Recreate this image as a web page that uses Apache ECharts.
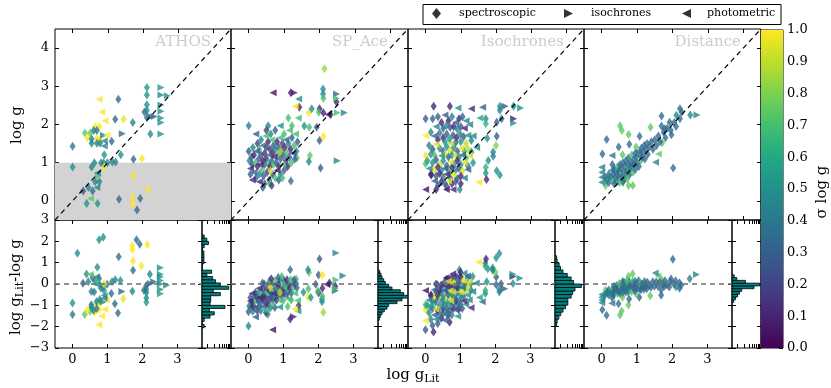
<!DOCTYPE html>
<html>
<head>
<meta charset="utf-8">
<script src="https://cdn.jsdelivr.net/npm/echarts@6/dist/echarts.min.js"></script>
<style>
  html, body { margin: 0; padding: 0; background: #fff; }
  #chart { width: 831px; height: 388px; }
</style>
</head>
<body>
<div id="chart"></div>
<script>
// panels and marker kinds
const panelNames = ['ATHOS', 'SP_Ace', 'Isochrones', 'Distance'];
const markerNames = ['spectroscopic', 'isochrones', 'photometric'];

// points: [log g Lit, log g, sigma log g, marker (0 spec, 1 iso, 2 phot)]
const athosPts = [
  [0.00,1.43,0.4,0],[0.00,0.89,0.5,0],[0.75,2.66,1.0,2],[0.83,2.33,1.0,2],[0.92,2.10,1.0,2],
  [1.30,2.66,0.35,0],[1.21,2.14,0.35,0],[1.45,2.14,0.97,0],[1.71,2.05,0.45,0],[1.41,1.76,0.35,1],
  [0.64,1.94,1.0,0],[0.76,1.94,1.0,0],[0.35,1.78,0.75,0],[0.50,1.78,0.75,0],[0.42,1.65,1.0,0],
  [0.69,1.63,1.0,0],[0.78,1.63,1.0,0],[0.97,1.72,1.0,2],[0.88,1.72,0.45,1],[0.54,1.62,0.45,0],
  [0.54,1.51,0.45,0],[0.69,1.51,0.45,0],[0.78,1.51,0.45,0],[0.90,1.57,0.45,2],[0.90,1.44,0.45,2],
  [1.11,1.56,0.35,0],[0.60,1.84,0.45,0],[0.69,1.84,0.4,0],[0.90,1.21,0.5,0],[1.37,1.21,0.5,0],
  [0.81,1.00,0.45,0],[0.88,1.00,0.45,0],[0.99,1.00,0.45,0],[1.13,1.02,0.45,0],[1.22,1.02,0.45,0],
  [0.62,1.00,0.45,0],[0.54,0.89,0.45,0],[1.73,1.09,0.35,0],[1.97,1.11,1.0,0],[0.90,0.89,1.0,0],
  [0.73,0.65,0.7,1],[0.71,0.74,0.45,2],[0.64,0.50,0.45,0],[0.76,0.50,0.45,0],[0.45,0.35,0.45,0],
  [0.57,0.26,0.35,0],[0.69,0.35,0.45,2],[0.30,0.26,0.3,0],[0.51,0.06,0.75,2],[0.40,-0.07,0.5,0],
  [0.71,-0.07,0.5,0],[1.32,0.04,0.35,0],[1.73,0.65,1.0,0],[2.14,0.29,1.0,0],[1.71,0.09,1.0,0],
  [1.71,-0.09,1.0,0],[1.92,0.06,0.35,0],[1.83,-0.24,0.35,0],[2.11,2.97,0.55,0],[2.11,2.77,0.5,0],
  [2.11,2.52,0.5,0],[2.11,2.37,0.5,0],[2.04,2.33,0.35,0],[2.11,2.18,0.35,0],[2.23,2.21,0.35,1],
  [2.32,2.21,0.35,1],[2.21,1.75,0.45,0],[2.51,2.97,0.55,1],[2.51,2.77,0.5,1],[2.51,2.51,0.5,1],
  [2.51,2.35,0.5,1],[2.51,2.17,0.5,1],[2.51,2.05,0.5,1],[2.51,1.75,0.5,1],[2.69,2.75,0.5,1],
  [0.88,-1.31,0.5,0],[0.76,-1.32,0.5,0],[0.14,-1.30,0.5,0]
];

const spacePts = [
  [2.14,3.46,0.85,0],[0.69,2.83,0.05,2],[1.19,2.83,0.1,0],[1.29,2.83,0.1,1],[1.41,2.67,0.5,2],
  [2.10,2.93,0.5,0],[2.10,2.80,0.45,0],[2.11,2.69,0.7,0],[2.48,2.80,0.35,1],[2.48,2.69,0.7,1],
  [2.48,2.59,0.1,0],[1.31,2.48,1.0,2],[1.43,2.45,0.1,0],[1.70,2.31,1.0,0],[1.78,2.41,0.5,0],
  [2.00,2.41,0.1,0],[1.98,2.32,0.7,0],[2.11,2.31,0.1,0],[2.24,2.26,0.05,2],[2.31,2.26,0.1,0],
  [2.50,2.31,0.7,1],[2.70,2.31,0.45,1],[1.12,2.17,0.7,0],[1.40,2.17,0.7,2],[0.00,1.97,0.45,0],
  [0.55,1.97,0.45,0],[0.89,1.97,0.5,2],[1.22,1.97,0.7,0],[1.57,1.96,0.5,0],[1.71,1.93,0.7,0],
  [1.92,1.93,0.3,0],[2.00,1.58,0.3,0],[2.11,1.69,1.0,0],[1.36,1.12,0.7,0],[1.73,1.19,0.75,0],
  [1.70,1.03,0.45,0],[2.03,0.86,0.3,0],[2.50,1.05,0.45,1],[1.19,0.52,0.35,0],
  [0.00,1.30,0.3,0],[0.02,1.05,0.45,0],[0.05,0.85,0.1,2],[0.08,1.15,0.3,0],[0.10,0.95,0.2,0],
  [0.12,1.40,0.45,0],[0.15,0.75,0.3,2],[0.15,1.20,0.1,0],[0.18,1.00,0.7,0],[0.20,0.60,0.3,0],
  [0.22,1.30,0.3,2],[0.25,0.90,0.1,0],[0.25,1.50,0.2,0],[0.28,1.10,0.3,0],[0.30,0.70,0.45,0],
  [0.30,1.35,0.7,0],[0.32,0.95,0.1,2],[0.35,1.20,0.3,0],[0.35,1.60,0.45,0],[0.38,0.80,0.7,0],
  [0.40,1.05,0.1,0],[0.40,1.45,0.3,2],[0.42,0.65,0.3,0],[0.45,1.25,0.15,0],[0.45,0.95,0.3,0],
  [0.48,1.70,0.7,2],[0.50,1.10,0.1,0],[0.50,1.40,0.3,0],[0.52,0.75,0.2,0],[0.55,1.00,0.7,0],
  [0.55,1.55,0.1,0],[0.58,1.20,0.3,2],[0.58,0.55,0.3,0],[0.60,0.90,0.1,0],[0.60,1.35,0.15,0],
  [0.62,1.75,0.45,0],[0.65,1.05,0.3,0],[0.65,1.60,0.7,2],[0.68,0.70,0.2,0],[0.68,1.25,0.1,0],
  [0.70,1.45,0.3,0],[0.70,0.95,0.7,0],[0.72,1.15,0.1,2],[0.75,0.60,0.7,0],[0.75,1.35,0.45,0],
  [0.75,1.85,0.3,0],[0.78,1.00,0.3,0],[0.80,1.55,0.1,0],[0.80,0.80,0.15,2],[0.82,1.20,0.7,0],
  [0.85,1.40,0.3,0],[0.85,0.90,0.1,0],[0.88,1.65,0.7,2],[0.90,1.10,0.3,0],[0.90,0.70,0.45,0],
  [0.92,1.30,0.1,0],[0.95,1.50,0.2,0],[0.95,0.95,0.7,2],[0.98,1.20,0.3,0],[1.00,1.75,0.7,0],
  [1.00,0.80,0.3,0],[1.02,1.40,0.1,0],[1.05,1.05,0.15,0],[1.05,1.60,0.3,2],[1.08,1.25,0.7,0],
  [1.10,0.90,0.1,0],[1.12,1.50,0.45,0],[1.15,1.15,0.3,0],[1.15,1.85,0.7,2],[1.18,1.35,0.1,0],
  [1.20,1.00,0.7,0],[1.22,1.65,0.3,0],[1.25,1.25,0.2,2],[1.28,1.45,0.7,0],[1.30,1.10,0.3,0],
  [1.32,1.75,0.7,2],[1.35,1.30,0.45,0],[1.38,1.55,0.3,0],[0.45,0.45,0.3,0],[0.60,0.45,0.7,0],
  [0.30,0.50,0.1,2],[0.85,0.55,0.3,0],[0.95,0.60,0.7,0],[0.20,1.75,0.3,2],[0.50,1.85,0.2,0],
  [0.10,0.55,0.1,2],[0.05,0.70,0.3,0],[0.40,0.35,0.3,0],[0.65,0.40,0.15,0],[0.62,0.78,0.95,0],
  [0.90,1.30,0.9,0]
];

const isoPts = [
  [0.23,2.48,0.1,0],[0.69,2.48,0.1,0],[0.92,2.43,0.5,2],[1.30,2.41,0.1,2],[1.62,2.45,0.3,2],
  [2.11,2.48,0.5,0],[2.11,2.37,0.45,0],[2.26,2.48,0.3,1],[2.50,2.48,0.5,0],[2.70,2.43,0.5,1],
  [2.50,2.15,0.1,1],[2.50,2.04,0.5,1],[2.16,2.15,0.3,0],[2.02,2.06,0.3,0],[1.71,2.15,0.5,0],
  [1.71,2.02,0.65,0],[1.54,2.17,0.6,2],[2.02,1.69,0.3,0],[1.75,1.64,0.5,0],[2.00,1.45,0.8,0],
  [1.92,1.28,0.45,0],[1.92,1.17,0.45,0],[1.78,1.06,0.5,0],[1.71,0.88,0.65,0],[1.71,0.73,0.5,0],
  [2.02,0.79,0.5,0],[2.11,0.68,0.5,0],[1.73,0.56,0.1,0],[1.51,0.49,1.0,2],[0.00,2.15,0.3,0],
  [0.00,1.71,1.0,2],[0.00,1.19,1.0,0],[0.00,0.97,0.7,0],[0.16,0.68,0.1,0],[0.00,0.30,0.05,2],
  [0.30,0.30,0.1,0],[0.59,0.30,0.05,2],[0.78,0.30,0.1,2],[0.97,0.30,0.5,0],
  [0.20,2.15,0.3,0],[0.35,2.20,0.3,0],[0.45,2.05,0.1,0],[0.55,2.25,0.3,2],[0.65,2.10,0.1,0],
  [0.75,2.20,0.45,0],[0.85,2.05,0.3,2],[0.95,2.15,0.1,0],[1.05,2.20,0.3,0],[1.15,2.10,0.45,2],
  [0.30,1.95,0.45,2],[0.50,1.90,0.3,0],[0.60,1.98,0.45,0],[0.70,1.92,0.3,0],[0.80,1.95,0.1,0],
  [0.90,1.88,0.45,0],[1.00,1.95,0.3,0],[1.10,1.90,0.1,2],[1.25,2.00,0.45,2],
  [0.15,1.80,0.45,0],[0.25,1.70,0.3,2],[0.40,1.78,0.45,0],[0.50,1.65,0.1,0],[0.60,1.75,0.3,0],
  [0.68,1.62,0.5,0],[0.78,1.72,0.3,0],[0.88,1.65,0.1,0],[0.98,1.75,0.45,0],[1.08,1.68,0.3,0],
  [1.20,1.72,0.5,2],[1.35,1.70,0.45,2],[0.35,1.60,0.1,0],[0.55,1.55,0.5,0],[0.72,1.50,0.9,2],
  [0.85,1.52,0.3,0],[1.00,1.55,0.5,0],[1.15,1.50,0.9,0],[1.30,1.58,0.45,0],
  [0.10,1.45,0.45,0],[0.20,1.35,0.3,0],[0.30,1.48,0.95,2],[0.40,1.38,0.5,0],[0.50,1.30,0.3,0],
  [0.60,1.42,0.5,0],[0.70,1.32,0.95,0],[0.80,1.40,0.5,0],[0.90,1.30,0.3,0],[1.00,1.38,0.95,2],
  [1.10,1.30,0.6,0],[1.20,1.36,0.9,0],[1.30,1.28,0.5,0],[1.45,1.40,0.45,2],[0.15,1.22,0.5,0],
  [0.25,1.20,0.7,0],[0.45,1.18,0.5,2],[0.55,1.22,0.95,0],[0.65,1.15,0.3,0],[0.75,1.20,0.5,0],
  [0.85,1.18,0.95,0],[0.95,1.15,0.5,0],[1.05,1.20,0.3,2],[1.15,1.12,0.7,0],[1.25,1.18,0.95,2],
  [0.05,1.05,0.55,0],[0.20,1.00,0.5,0],[0.30,1.08,0.3,0],[0.40,0.95,0.95,0],[0.50,1.05,0.5,0],
  [0.60,0.92,0.3,0],[0.70,1.02,0.95,2],[0.80,0.95,0.5,0],[0.90,1.05,0.1,0],[1.00,0.95,0.5,0],
  [1.10,1.00,0.95,2],[1.20,0.92,0.45,0],[1.35,1.00,0.5,0],[0.10,0.85,0.45,2],[0.25,0.82,0.95,0],
  [0.35,0.88,0.1,0],[0.45,0.80,0.5,0],[0.55,0.85,0.3,2],[0.65,0.78,0.7,0],[0.75,0.88,0.1,0],
  [0.85,0.80,0.5,0],[0.95,0.85,0.3,0],[1.05,0.78,0.95,0],[1.20,0.82,0.3,2],
  [0.15,0.70,0.1,0],[0.30,0.65,0.3,0],[0.40,0.72,0.1,0],[0.50,0.62,0.45,0],[0.60,0.70,0.1,2],
  [0.70,0.60,0.3,0],[0.80,0.68,0.95,0],[0.90,0.58,0.3,0],[1.00,0.65,0.1,0],[1.10,0.60,0.45,2],
  [0.25,0.52,0.3,2],[0.45,0.50,0.1,0],[0.55,0.45,0.3,0],[0.65,0.52,0.95,2],[0.75,0.45,0.1,0],
  [0.85,0.50,0.3,0],[1.00,0.45,0.1,0],[0.35,0.40,0.3,0],[0.60,0.38,0.3,0]
];

const distPts = [
  [0.52,1.97,0.75,0],[0.57,1.84,0.75,0],[0.76,1.74,0.75,0],[1.38,1.93,0.75,0],[1.69,2.22,0.35,0],
  [1.69,1.96,0.35,0],[2.21,2.41,0.35,0],[2.11,2.24,0.45,0],[2.26,2.32,0.35,0],[2.50,2.25,0.45,0],
  [2.69,2.25,0.45,1],[2.21,2.15,0.35,0],[1.92,2.06,0.35,0],[1.78,1.89,0.35,0],[1.97,1.73,0.35,0],
  [1.07,1.69,0.35,0],[0.14,1.61,0.35,0],[0.48,1.41,0.35,0],[0.78,1.48,0.35,0],[0.97,1.41,0.75,0],
  [1.71,1.52,0.75,0],[1.60,1.23,0.75,2],[1.52,1.01,0.45,2],[2.02,0.86,0.35,0],[0.02,1.23,0.35,0],
  [0.29,1.19,0.4,2],[0.59,1.21,0.75,0],[0.00,0.88,0.45,2],[0.00,0.75,0.45,2],[0.00,0.62,0.45,2],
  [0.00,0.49,0.45,2],[0.11,0.40,0.75,0],[0.60,0.49,0.75,0],[0.76,0.40,0.75,0],[0.88,0.40,0.75,0],
  [0.10,0.62,0.35,0],[0.15,0.55,0.4,0],[0.20,0.70,0.35,0],[0.20,0.48,0.35,0],[0.25,0.62,0.4,0],
  [0.28,0.80,0.35,2],[0.30,0.55,0.7,0],[0.32,0.70,0.35,0],[0.35,0.85,0.4,0],[0.38,0.62,0.35,0],
  [0.40,0.75,0.35,2],[0.42,0.50,0.35,0],[0.45,0.90,0.7,0],[0.45,0.68,0.35,0],[0.48,0.80,0.4,0],
  [0.50,0.60,0.35,0],[0.52,0.95,0.35,0],[0.55,0.72,0.7,0],[0.55,0.85,0.35,0],[0.58,0.65,0.35,0],
  [0.60,1.00,0.4,0],[0.62,0.78,0.35,2],[0.65,0.90,0.35,0],[0.65,0.58,0.35,0],[0.68,1.05,0.35,0],
  [0.70,0.72,0.35,0],[0.72,0.85,0.7,0],[0.75,0.95,0.35,0],[0.75,1.12,0.4,0],[0.78,0.68,0.35,0],
  [0.80,0.80,0.35,0],[0.82,1.00,0.35,0],[0.85,1.20,0.7,0],[0.85,0.90,0.35,0],[0.88,0.75,0.7,0],
  [0.90,1.08,0.35,0],[0.92,0.95,0.35,0],[0.95,1.25,0.35,0],[0.95,0.82,0.4,0],[0.98,1.15,0.35,0],
  [1.00,1.00,0.35,0],[1.02,1.30,0.35,2],[1.05,0.90,0.35,0],[1.08,1.20,0.35,0],[1.10,1.05,0.7,0],
  [1.12,1.38,0.35,0],[1.15,1.15,0.35,0],[1.18,1.28,0.35,0],[1.20,1.45,0.35,0],[1.22,1.10,0.35,0],
  [1.25,1.35,0.35,0],[1.28,1.50,0.35,0],[1.30,1.22,0.35,0],[1.35,1.42,0.35,0],[1.40,1.55,0.35,0],
  [1.45,1.35,0.35,0],[1.50,1.60,0.35,0],[1.55,1.45,0.35,0],[1.60,1.70,0.35,0],[1.65,1.55,0.35,0],
  [1.75,1.80,0.35,0],[1.80,1.65,0.35,0],[1.85,1.90,0.35,0],[1.95,1.85,0.35,0],[2.05,2.05,0.35,0],
  [2.10,1.95,0.35,0],[0.18,0.62,0.45,2],[0.35,0.45,0.35,0],[0.60,0.50,0.35,0],[0.50,0.48,0.7,0],
  [0.72,0.58,0.7,0],[0.30,0.95,0.35,0]
];
const panelPts = [athosPts, spacePts, isoPts, distPts];

// residual histograms (lowest bin first)
const histStart = [-2.05, -1.70, -1.98, -0.87];
const histWidth = [0.15, 0.13, 0.165, 0.13];
const athosHist = [2.3,0,2.3,8.3,12.7,7.7,23.7,8.3,9,9,19,11.7,27.7,19,14,11,5,10,0,0,2,2,2,2,0,2.3,6.7,5,2.3];
const spaceHist = [1.3,2.3,4,6.3,9,10.7,19,24,30,25.7,22.3,14,10.7,7.3,5.7,4,3,1.7];
const isoHist = [1.7,2.3,4,6,8.3,11,13.3,13.3,16.7,18.3,20.7,27.3,19.3,16.7,12.7,8.3,5.7,4.3,2.3,1.7];
const distHist = [1.7,3.7,5.7,7.7,10,22.7,28.7,14,5,2.3];
const panelHist = [athosHist, spaceHist, isoHist, distHist];

// ATHOS shaded band in log g
const athosShade = [-0.5, 1.0];

// axes ranges and ticks
const topRange = [-0.5, 4.5];
const resRange = [-3, 3];
const litRange = [-0.5, 3.7];
const histRange = [0, 30];
const topTicks = [0, 1, 2, 3, 4];
const resTicks = [-3, -2, -1, 0, 1, 2, 3];
const litTicks = [0, 1, 2, 3];
const histTicks = [5, 13, 18, 21, 23.5, 25.5, 27, 28.5];
const cbTicks = [0, 0.1, 0.2, 0.3, 0.4, 0.5, 0.6, 0.7, 0.8, 0.9, 1.0];

const viridis = ['#440154', '#482475', '#414487', '#355f8d', '#2a788e', '#21918c',
  '#22a884', '#44bf70', '#7ad151', '#bddf26', '#fde725'];

const FONT = 'DejaVu Serif';
const minus = v => (v < 0 ? '\u2212' + Math.abs(v) : String(v));

// layout
const colL = [55, 231, 408, 584];
const colW = [176, 177, 176, 177];
const scW = [147, 147, 147, 148];

const grids = [];
const xAxes = [];
const yAxes = [];

function addAxisPair(list, g, posA, posB, range, ticks, labelled) {
  const base = {
    type: 'value', gridIndex: g, min: range[0], max: range[1],
    axisLine: { show: false, onZero: false }, splitLine: { show: false },
    axisTick: { show: true, inside: true, length: 4, customValues: ticks, lineStyle: { color: '#000', width: 1 } }
  };
  list.push(Object.assign({}, base, {
    position: posA,
    axisLabel: { show: labelled, customValues: ticks, formatter: minus, color: '#000',
      fontFamily: FONT, fontSize: 13, margin: posA === 'left' ? 6 : 5 }
  }));
  list.push(Object.assign({}, base, { position: posB, axisLabel: { show: false } }));
}

for (let p = 0; p < 4; p++) {
  grids.push({ left: colL[p], top: 29, width: colW[p], height: 191 });
}
for (let p = 0; p < 4; p++) {
  grids.push({ left: colL[p], top: 220, width: scW[p], height: 128 });
}
for (let p = 0; p < 4; p++) {
  grids.push({ left: colL[p] + scW[p], top: 220, width: colW[p] - scW[p], height: 128 });
}
grids.forEach(g => Object.assign(g, { show: true, borderColor: '#000', borderWidth: 1, backgroundColor: 'transparent' }));

for (let p = 0; p < 4; p++) {
  addAxisPair(xAxes, p, 'bottom', 'top', topRange, topTicks, false);
  addAxisPair(yAxes, p, 'left', 'right', topRange, topTicks, p === 0);
}
for (let p = 0; p < 4; p++) {
  addAxisPair(xAxes, 4 + p, 'bottom', 'top', litRange, litTicks, true);
  addAxisPair(yAxes, 4 + p, 'left', 'right', resRange, resTicks, p === 0);
}
for (let p = 0; p < 4; p++) {
  addAxisPair(xAxes, 8 + p, 'bottom', 'top', histRange, histTicks, false);
  addAxisPair(yAxes, 8 + p, 'left', 'right', resRange, resTicks, false);
}

// colour bar
grids.push({ left: 761, top: 30, width: 22, height: 318, show: true, borderColor: '#000', borderWidth: 1 });
xAxes.push({ type: 'category', gridIndex: 12, data: ['c'], show: false });
yAxes.push({
  type: 'value', gridIndex: 12, position: 'right', min: 0, max: 1,
  axisLine: { show: false, onZero: false }, splitLine: { show: false },
  axisTick: { show: true, inside: true, length: 4, customValues: cbTicks, lineStyle: { color: '#000' } },
  axisLabel: { customValues: cbTicks, formatter: v => v.toFixed(1), color: '#000', fontFamily: FONT, fontSize: 13, margin: 4 }
});

const markerStyle = [
  { symbol: 'diamond', symbolSize: [6, 9], symbolRotate: 0 },
  { symbol: 'triangle', symbolSize: [7, 7], symbolRotate: -90 },
  { symbol: 'triangle', symbolSize: [7, 7], symbolRotate: 90 }
];

const series = [];
const scatterIdx = [];

// grey band behind ATHOS points
series.push({
  type: 'line', xAxisIndex: 0, yAxisIndex: 0, data: [], silent: true, z: 1,
  markArea: {
    silent: true, itemStyle: { color: '#d3d3d3' },
    data: [[{ xAxis: topRange[0], yAxis: athosShade[0] }, { xAxis: topRange[1], yAxis: athosShade[1] }]]
  }
});

for (let p = 0; p < 4; p++) {
  const pts = panelPts[p];
  for (let m = 0; m < 3; m++) {
    const sel = pts.filter(d => d[3] === m);
    scatterIdx.push(series.length);
    series.push(Object.assign({
      name: markerNames[m], type: 'scatter', xAxisIndex: 2 * p, yAxisIndex: 2 * p,
      data: sel.map(d => [d[0], d[1], d[2]]), z: 2, clip: true
    }, markerStyle[m]));
    scatterIdx.push(series.length);
    series.push(Object.assign({
      name: markerNames[m], type: 'scatter', xAxisIndex: 2 * (4 + p), yAxisIndex: 2 * (4 + p),
      data: sel.map(d => [d[0], +(d[0] - d[1]).toFixed(2), d[2]]), z: 2, clip: true
    }, markerStyle[m]));
  }
  // one-to-one line
  series.push({
    type: 'line', xAxisIndex: 2 * p, yAxisIndex: 2 * p, silent: true, symbol: 'none', z: 3,
    data: [[topRange[0], topRange[0]], [topRange[1], topRange[1]]],
    lineStyle: { color: '#000', width: 1.2, type: [5, 4] }
  });
  // zero residual line
  series.push({
    type: 'line', xAxisIndex: 2 * (4 + p), yAxisIndex: 2 * (4 + p), silent: true, symbol: 'none', z: 3,
    data: [[litRange[0], 0], [litRange[1], 0]],
    lineStyle: { color: '#6e6e6e', width: 1.5, type: [5, 4] }
  });
  // residual histogram
  const h = panelHist[p];
  series.push({
    type: 'custom', xAxisIndex: 2 * (8 + p), yAxisIndex: 2 * (8 + p), silent: true, clip: true,
    data: h.map((c, k) => [histStart[p] + k * histWidth[p], histStart[p] + (k + 1) * histWidth[p], c]),
    encode: { x: 2, y: [0, 1] },
    renderItem: (params, api) => {
      const a = api.coord([0, api.value(0)]);
      const b = api.coord([api.value(2), api.value(1)]);
      return {
        type: 'rect',
        shape: { x: a[0], y: b[1], width: b[0] - a[0], height: a[1] - b[1] },
        style: { fill: '#008080', stroke: '#000', lineWidth: 0.8 }
      };
    }
  });
}

// colour bar fill
series.push({
  type: 'bar', xAxisIndex: 24, yAxisIndex: 24, data: [1], barWidth: '100%', silent: true,
  itemStyle: {
    color: new echarts.graphic.LinearGradient(0, 1, 0, 0,
      viridis.map((c, i) => ({ offset: i / (viridis.length - 1), color: c })))
  }
});

const titles = panelNames.map((n, p) => ({
  text: n, right: 831 - (colL[p] + colW[p] - 20), top: 35, padding: 0,
  textStyle: { fontFamily: FONT, fontSize: 15, fontWeight: 'normal', color: '#cccccc' }
}));

const rich = {
  m: { fontFamily: FONT, fontSize: 15, lineHeight: 20, color: '#000' },
  s: { fontFamily: FONT, fontSize: 11, lineHeight: 11, verticalAlign: 'bottom', color: '#000' }
};

// one legend per entry, placed like the reference
const legendLeft = [432, 564, 682];
const legendIcons = ['diamond', 'path://M0,0L10,5L0,10Z', 'path://M10,0L0,5L10,10Z'];
const legends = markerNames.map((n, i) => ({
  left: legendLeft[i], top: 8, padding: 0, itemWidth: 9, itemHeight: 11, selectedMode: false,
  textStyle: { fontFamily: FONT, fontSize: 11, color: '#000', padding: [0, 0, 0, i === 2 ? 11 : 13] },
  data: [{ name: n, icon: legendIcons[i], itemStyle: { color: '#000' } }]
}));

const chart = echarts.init(document.getElementById('chart'), null, { renderer: 'canvas' });
chart.setOption({
  animation: false,
  backgroundColor: '#fff',
  title: titles,
  grid: grids,
  xAxis: xAxes,
  yAxis: yAxes,
  visualMap: {
    type: 'continuous', show: false, min: 0, max: 1, dimension: 2,
    seriesIndex: scatterIdx, inRange: { color: viridis }
  },
  legend: legends,
  graphic: [
    { type: 'rect', shape: { x: 423, y: 4.5, width: 358, height: 20 },
      style: { fill: '#fff', stroke: '#000', lineWidth: 1 }, z: -1, silent: true },
    { type: 'text', x: 17, y: 125, rotation: Math.PI / 2,
      style: { text: 'log g', font: '15px "DejaVu Serif"', fill: '#000', align: 'center', verticalAlign: 'middle' } },
    { type: 'text', x: 16, y: 287, rotation: Math.PI / 2,
      style: { text: '{m|log g}{s|Lit}{m|-log g}', rich: rich, align: 'center', verticalAlign: 'middle' } },
    { type: 'text', x: 413, y: 375,
      style: { text: '{m|log g}{s|Lit}', rich: rich, align: 'center', verticalAlign: 'middle' } },
    { type: 'text', x: 822, y: 192, rotation: Math.PI / 2,
      style: { text: '\u03c3 log g', font: '15px "DejaVu Serif"', fill: '#000', align: 'center', verticalAlign: 'middle' } }
  ],
  series: series
});
</script>
</body>
</html>
